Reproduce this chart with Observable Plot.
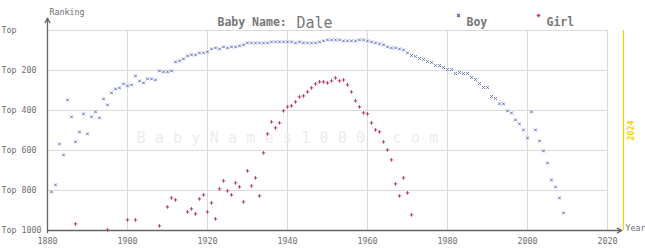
<!DOCTYPE html>
<html><head><meta charset="utf-8">
<script src="https://cdn.jsdelivr.net/npm/d3@7"></script>
<script src="https://cdn.jsdelivr.net/npm/@observablehq/plot@0.6"></script>
<style>body{margin:0;background:#fff}</style>
</head><body><div id="chart"></div>
<script>
const babyName = "Dale";
const currentYear = 2024;
const boyYears = [1881,1882,1883,1884,1885,1886,1887,1888,1889,1890,1891,1892,1893,1894,1895,1896,1897,1898,1899,1900,
1901,1902,1903,1904,1905,1906,1907,1908,1909,1910,1911,1912,1913,1914,1915,1916,1917,1918,1919,1920,
1921,1922,1923,1924,1925,1926,1927,1928,1929,1930,1931,1932,1933,1934,1935,1936,1937,1938,1939,1940,
1941,1942,1943,1944,1945,1946,1947,1948,1949,1950,1951,1952,1953,1954,1955,1956,1957,1958,1959,1960,
1961,1962,1963,1964,1965,1966,1967,1968,1969,1970,1971,1972,1973,1974,1975,1976,1977,1978,1979,1980,
1981,1982,1983,1984,1985,1986,1987,1988,1989,1990,1991,1992,1993,1994,1995,1996,1997,1998,1999,2000,
2001,2002,2003,2004,2005,2006,2007,2008,2009];
const boyRanks = [807,772,567,622,347,432,557,507,417,517,432,407,437,342,372,312,292,287,267,277,
272,227,252,262,242,242,247,202,207,207,202,157,152,142,127,122,122,112,112,107,
92,87,92,82,87,82,82,77,72,62,62,62,62,62,62,57,57,57,57,57,
57,62,57,62,62,62,62,57,52,47,47,47,47,52,52,52,52,47,47,52,
57,62,67,72,82,87,87,92,97,112,125,130,140,145,155,160,175,175,185,195,
195,215,210,215,215,235,245,265,285,285,330,340,367,367,402,412,447,467,497,537,
407,497,552,602,662,747,782,837,912];
const girlYears = [1887,1895,1900,1902,1908,1910,1911,1912,1915,1916,1917,1918,1919,1920,
1921,1922,1923,1924,1925,1926,1927,1928,1929,1930,1931,1932,1933,1934,1935,1936,1937,1938,1939,1940,
1941,1942,1943,1944,1945,1946,1947,1948,1949,1950,1951,1952,1953,1954,1955,1956,1957,1958,1959,1960,
1961,1962,1963,1964,1965,1966,1967,1968,1969,1970,1971];
const girlRanks = [967,997,947,947,977,882,837,847,907,892,917,842,822,907,
862,942,792,752,802,822,762,782,857,702,777,737,827,612,517,457,487,462,402,382,
377,357,332,327,307,287,267,257,257,262,252,237,252,247,272,307,352,382,412,417,
462,497,507,557,597,647,767,827,737,812,922];
const xTicks = [1880,1900,1920,1940,1960,1980,2000,2020];
const yTicks = [0,200,400,600,800,1000];
const yTickLabels = ["Top","Top 200","Top 400","Top 600","Top 800","Top 1000"];

const boys = boyYears.map((year, i) => ({year, rank: boyRanks[i]}));
const girls = girlYears.map((year, i) => ({year, rank: girlRanks[i]}));

const mono = "'DejaVu Sans Mono', monospace";
const boyColor = "#5f74bf";
const girlColor = "#bd3f70";
const textGray = "#6e6e6e";
const grid = "#dadada";
const yellow = "#f3d200";

const chart = Plot.plot({
  width: 645, height: 250,
  marginLeft: 47, marginRight: 38, marginTop: 30, marginBottom: 20,
  x: {domain: [1880, 2020], axis: null},
  y: {domain: [0, 1000], reverse: true, axis: null},
  style: {fontFamily: mono, background: "#fff", overflow: "visible"},
  marks: [
    Plot.ruleX(xTicks.slice(1), {x: d => d, y1: 0, y2: 1000, stroke: grid, strokeWidth: 1}),
    Plot.ruleY(yTicks.slice(0, -1), {y: d => d, x1: 1880, x2: 2020, stroke: grid, strokeWidth: 1}),
    Plot.text(["B a b y N a m e s 1 0 0 0 . c o m"], {frameAnchor: "top-left", dx: 89, dy: 102, textAnchor: "start", fontSize: 15.2, fill: "#ececec", fontFamily: mono}),
    Plot.ruleX([currentYear], {x: d => d, y1: 0, y2: 1000, stroke: yellow, strokeWidth: 1.2}),
    Plot.text([currentYear], {x: d => d, y: 500, dx: 8, rotate: -90, text: d => String(d), fill: yellow, fontSize: 8.5, fontWeight: "bold"}),
    Plot.arrow([0], {x1: 1880, x2: 1880, y1: 1010, y2: -62, stroke: "#666", strokeWidth: 1.3, headLength: 6, headAngle: 55}),
    Plot.arrow([0], {x1: 1880, x2: 2023.6, y1: 1000, y2: 1000, stroke: "#666", strokeWidth: 1.3, headLength: 6, headAngle: 55}),
    Plot.text(yTicks, {y: d => d, text: (d, i) => yTickLabels[i], frameAnchor: "left", dx: -46, textAnchor: "start", fontSize: 8.3, fill: textGray}),
    Plot.text(xTicks, {x: d => d, text: d => String(d), frameAnchor: "bottom", dy: 13, fontSize: 8.3, fill: textGray}),
    Plot.text(["Ranking"], {frameAnchor: "top-left", dx: 2, dy: -21, fontSize: 8.3, fill: textGray}),
    Plot.text(["Year"], {frameAnchor: "bottom-right", dx: 18, textAnchor: "start", fontSize: 8.3, fill: textGray}),
    Plot.dot(boys, {x: "year", y: "rank", symbol: "times", r: 1.35, stroke: boyColor, strokeWidth: 1}),
    Plot.dot(girls, {x: "year", y: "rank", symbol: "plus", r: 1.25, stroke: girlColor, strokeWidth: 1}),
    Plot.text(["Baby Name:"], {frameAnchor: "top-left", dx: 170, dy: -13, textAnchor: "start", fontSize: 11.5, fontWeight: "bold", fill: "#777"}),
    Plot.text([babyName], {frameAnchor: "top-left", dx: 249, dy: -13, textAnchor: "start", fontSize: 15, fill: "#777"}),
    Plot.dot(["Boy"], {frameAnchor: "top-left", dx: 411, dy: -15, symbol: "times", r: 1.35, stroke: boyColor}),
    Plot.text(["Boy"], {frameAnchor: "top-left", dx: 419, dy: -13, textAnchor: "start", fontSize: 11.5, fontWeight: "bold", fill: "#777"}),
    Plot.dot(["Girl"], {frameAnchor: "top-left", dx: 491, dy: -15, symbol: "plus", r: 1.25, stroke: girlColor}),
    Plot.text(["Girl"], {frameAnchor: "top-left", dx: 499, dy: -13, textAnchor: "start", fontSize: 11.5, fontWeight: "bold", fill: "#777"})
  ]
});
document.getElementById("chart").appendChild(chart);
</script>
</body></html>
